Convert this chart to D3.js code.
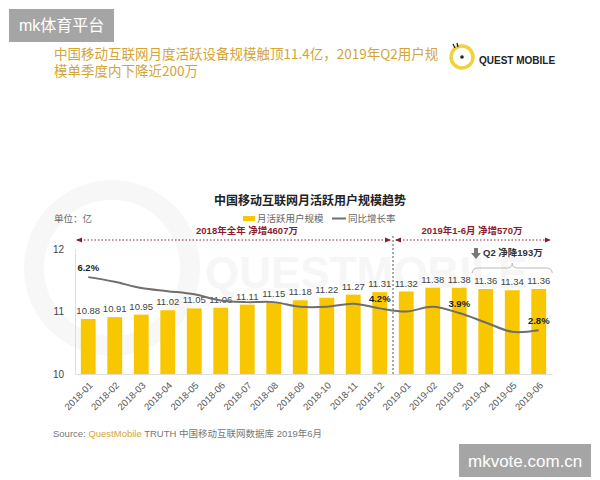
<!DOCTYPE html>
<html>
<head>
<meta charset="utf-8">
<script src="https://cdn.jsdelivr.net/npm/d3@7"></script>
<style>
  body { margin: 0; background: #fff; }
  svg { display: block; font-family: "Liberation Sans", Arial, "Noto Sans CJK SC", sans-serif; }
</style>
</head>
<body>
<svg id="chart" width="600" height="480"></svg>
<script>
const months = ['2018-01','2018-02','2018-03','2018-04','2018-05','2018-06','2018-07','2018-08','2018-09',
  '2018-10','2018-11','2018-12','2019-01','2019-02','2019-03','2019-04','2019-05','2019-06'];
const mau = [10.88,10.91,10.95,11.02,11.05,11.06,11.11,11.15,11.18,11.22,11.27,11.31,11.32,11.38,11.38,11.36,11.34,11.36];
const yoy = [6.2,5.9,5.5,5.3,5.1,4.7,4.6,4.6,4.3,4.3,4.5,4.2,4.0,4.3,3.9,3.3,2.7,2.8];
const yoyLabelIdx = [0, 11, 14, 17];
const yTicks = [10, 11, 12];

const barColor = '#f8c700';
const lineColor = '#6e6e6e';
const redText = '#8c1c2c';
const gold = '#d4a437';

const svg = d3.select('#chart');

// header watermark boxes
svg.append('rect').attr('x', 9).attr('y', 9).attr('width', 105).attr('height', 33).attr('fill', '#a5a5a5');
svg.append('text').attr('x', 19).attr('y', 25.5).attr('dy', '0.35em').attr('fill', '#fff')
  .style('font-size', '16px').text('mk体育平台');

svg.append('rect').attr('x', 459).attr('y', 444).attr('width', 132).attr('height', 33).attr('fill', '#a5a5a5');
svg.append('text').attr('x', 468).attr('y', 461).attr('dy', '0.35em').attr('fill', '#fff')
  .style('font-size', '17px').text('mkvote.com.cn');

// headline
const head = svg.append('g').attr('fill', gold).style('font-family', '"Noto Sans CJK SC", sans-serif')
  .style('font-size', '13.5px');
head.append('text').attr('x', 54).attr('y', 54).attr('dy', '0.35em')
  .text('中国移动互联网月度活跃设备规模触顶11.4亿，2019年Q2用户规');
head.append('text').attr('x', 54).attr('y', 71).attr('dy', '0.35em')
  .text('模单季度内下降近200万');

// logo
const logo = svg.append('g').attr('transform', 'translate(462,57)');
logo.append('circle').attr('r', 11).attr('fill', 'none').attr('stroke', '#f0d33c').attr('stroke-width', 3.5);
logo.append('circle').attr('r', 1.8).attr('fill', '#222');
logo.append('path').attr('d', 'M-9,-13 L-7,-9 M-5,-14 L-4,-10').attr('stroke', '#222').attr('stroke-width', 1.3);
svg.append('text').attr('x', 479).attr('y', 60).attr('dy', '0.35em').attr('fill', '#222')
  .style('font-size', '10px').style('font-weight', 'bold').text('QUEST MOBILE');

// faint background watermark
svg.append('circle').attr('cx', 112).attr('cy', 268).attr('r', 78).attr('fill', 'none')
  .attr('stroke', '#f7f7f7').attr('stroke-width', 20);
svg.append('text').attr('x', 205).attr('y', 288).attr('fill', '#f6f6f6')
  .style('font-size', '44px').style('font-weight', 'bold').text('QUESTMOBILE');

// scales
const x = d3.scaleBand().domain(months).range([75, 552]).paddingInner(0.44).paddingOuter(0.22);
const y = d3.scaleLinear().domain([10, 12]).range([374, 249]);
const y2 = d3.scaleLinear().domain([0, 8]).range([374, 249]);
const cx = d => x(d) + x.bandwidth() / 2;

// chart title + unit + legend
svg.append('text').attr('x', 310).attr('y', 201).attr('dy', '0.35em').attr('text-anchor', 'middle')
  .attr('fill', '#222').style('font-size', '12px').style('font-weight', 'bold')
  .text('中国移动互联网月活跃用户规模趋势');
svg.append('text').attr('x', 54).attr('y', 219).attr('dy', '0.35em').attr('fill', '#666')
  .style('font-size', '9.5px').text('单位：亿');

const legend = svg.append('g').style('font-size', '9.5px').attr('fill', '#666');
legend.append('rect').attr('x', 243).attr('y', 216).attr('width', 12).attr('height', 5).attr('fill', barColor);
legend.append('text').attr('x', 257).attr('y', 218.5).attr('dy', '0.35em').text('月活跃用户规模');
legend.append('line').attr('x1', 332).attr('x2', 346).attr('y1', 218.5).attr('y2', 218.5)
  .attr('stroke', lineColor).attr('stroke-width', 2);
legend.append('text').attr('x', 348).attr('y', 218.5).attr('dy', '0.35em').text('同比增长率');

// axes
const yAxis = svg.append('g').attr('transform', 'translate(75,0)')
  .call(d3.axisLeft(y).tickValues(yTicks).tickFormat(d3.format('d')).tickSize(0).tickPadding(11));
yAxis.select('.domain').attr('stroke', '#ddd');
yAxis.selectAll('text').attr('fill', '#444').style('font-size', '10px')
  .style('font-family', '"Liberation Sans", Arial, sans-serif');

const xAxis = svg.append('g').attr('transform', 'translate(0,374)')
  .call(d3.axisBottom(x).tickSize(0));
xAxis.select('.domain').attr('stroke', '#ddd');
xAxis.selectAll('text')
  .attr('y', 0).attr('dy', 0)
  .attr('text-anchor', 'end')
  .attr('transform', 'translate(5,12) rotate(-45)')
  .attr('fill', '#555').style('font-size', '9.5px')
  .style('font-family', '"Liberation Sans", Arial, sans-serif');

// bars
svg.append('g').selectAll('rect').data(mau).join('rect')
  .attr('x', (d, i) => x(months[i]))
  .attr('y', d => y(d))
  .attr('width', x.bandwidth())
  .attr('height', d => y(10) - y(d))
  .attr('fill', barColor);

svg.append('g').selectAll('text').data(mau).join('text')
  .attr('x', (d, i) => cx(months[i]))
  .attr('y', d => y(d) - 5)
  .attr('text-anchor', 'middle')
  .attr('fill', '#444').style('font-size', '9.5px')
  .text(d => d.toFixed(2));

// divider and period annotations
const split = (cx('2018-12') + cx('2019-01')) / 2;
const arrowY = 240;
svg.append('line').attr('x1', split).attr('x2', split).attr('y1', arrowY - 4).attr('y2', y(10))
  .attr('stroke', '#555').attr('stroke-width', 1).attr('stroke-dasharray', '2,2');

const defs = svg.append('defs');
defs.append('marker').attr('id', 'arr').attr('viewBox', '0 0 6 6').attr('refX', 5).attr('refY', 3)
  .attr('markerWidth', 6).attr('markerHeight', 6).attr('orient', 'auto-start-reverse')
  .append('path').attr('d', 'M0,0.5 L6,3 L0,5.5 Z').attr('fill', redText);

[[75, split - 1], [split + 1, 552]].forEach(([a, b]) => {
  svg.append('line').attr('x1', a + 2).attr('x2', b - 2).attr('y1', arrowY).attr('y2', arrowY)
    .attr('stroke', redText).attr('stroke-width', 1).attr('stroke-dasharray', '1.5,2')
    .attr('marker-start', 'url(#arr)').attr('marker-end', 'url(#arr)');
});

const ann = svg.append('g').attr('fill', redText).style('font-size', '9.5px').style('font-weight', 'bold');
ann.append('text').attr('x', 247).attr('y', 231).attr('dy', '0.35em').attr('text-anchor', 'middle')
  .text('2018年全年  净增4607万');
ann.append('text').attr('x', 472).attr('y', 231).attr('dy', '0.35em').attr('text-anchor', 'middle')
  .text('2019年1-6月  净增570万');

// Q2 note with arrow and brace
const q2 = svg.append('g');
q2.append('path').attr('d', 'M474,248 L478,248 L478,253 L481,253 L476,259 L471,253 L474,253 Z').attr('fill', '#777');
q2.append('text').attr('x', 483).attr('y', 253).attr('dy', '0.35em').attr('fill', '#333')
  .style('font-size', '9.5px').style('font-weight', 'bold').text('Q2 净降193万');
const bl = x('2019-04') - 6, br = x('2019-06') + x.bandwidth() + 6, bm = (bl + br) / 2;
q2.append('path')
  .attr('d', `M${bl},273 Q${bl},268 ${bl + 6},268 L${bm - 5},268 Q${bm},268 ${bm},263 Q${bm},268 ${bm + 5},268 L${br - 6},268 Q${br},268 ${br},273`)
  .attr('fill', 'none').attr('stroke', '#bbb').attr('stroke-width', 1);

// yoy line
const line = d3.line()
  .x((d, i) => cx(months[i]))
  .y(d => y2(d))
  .curve(d3.curveCatmullRom.alpha(0.5));
svg.append('path').datum(yoy)
  .attr('fill', 'none').attr('stroke', lineColor).attr('stroke-width', 2)
  .attr('d', line);

svg.append('g').selectAll('text').data(yoyLabelIdx).join('text')
  .attr('x', i => cx(months[i]))
  .attr('y', i => y2(yoy[i]) - 6)
  .attr('text-anchor', 'middle')
  .attr('fill', '#222').style('font-size', '9.5px').style('font-weight', 'bold')
  .text(i => yoy[i].toFixed(1) + '%');

// source
const src = svg.append('text').attr('x', 53).attr('y', 434).attr('dy', '0.35em')
  .style('font-size', '9.5px').attr('fill', '#777');
src.append('tspan').text('Source:  ');
src.append('tspan').attr('fill', gold).text('QuestMobile');
src.append('tspan').text(' TRUTH 中国移动互联网数据库 2019年6月');
</script>
</body>
</html>
